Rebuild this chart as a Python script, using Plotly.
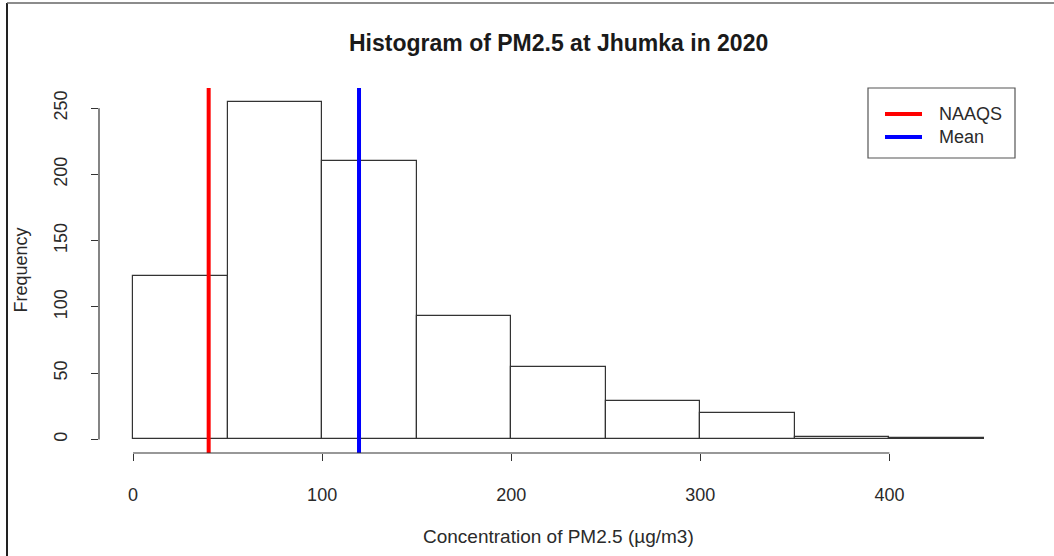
import plotly.graph_objects as go

# Histogram of daily PM2.5 concentration at Jhumka, 2020
bin_edges = [0, 50, 100, 150, 200, 250, 300, 350, 400, 450]
counts = [123, 255, 210, 93, 55, 29, 20, 2, 1]
naaqs_limit = 40
mean_pm25 = 119.5

x_ticks = [0, 100, 200, 300, 400]
y_ticks = [0, 50, 100, 150, 200, 250]

legend_labels = ["NAAQS", "Mean"]
legend_colors = ["#ff0000", "#0000ff"]

FONT = "Liberation Sans, Arial, sans-serif"
W, H = 1054, 556
ML, MR, MT, MB = 99, 36, 88, 103
PW, PH = W - ML - MR, H - MT - MB


def px_x(px):
    return (px - ML) / PW


def px_y(py):
    return (H - MB - py) / PH


mids = [(a + b) / 2 for a, b in zip(bin_edges[:-1], bin_edges[1:])]
widths = [b - a for a, b in zip(bin_edges[:-1], bin_edges[1:])]

# R-style axis ranges: data range padded by 4% on each side
x_lo, x_hi = bin_edges[0], bin_edges[-1]
x_pad = 0.04 * (x_hi - x_lo)
y_hi = max(counts)
y_pad = 0.04 * y_hi

fig = go.Figure()
fig.add_trace(go.Bar(
    x=mids, y=counts, width=widths,
    marker=dict(color="white", line=dict(color="#333333", width=1.2)),
    showlegend=False, hoverinfo="x+y",
))

# reference lines
for xv, col in zip([naaqs_limit, mean_pm25], legend_colors):
    fig.add_shape(type="line", xref="x", yref="paper", x0=xv, x1=xv, y0=0, y1=1,
                  line=dict(color=col, width=4))

# axis lines spanning only the tick range
fig.add_shape(type="line", xref="x", yref="paper", x0=x_ticks[0], x1=x_ticks[-1],
              y0=0, y1=0, line=dict(color="#333333", width=1.2))
fig.add_shape(type="line", xref="paper", yref="y", x0=0, x1=0,
              y0=y_ticks[0], y1=y_ticks[-1], line=dict(color="#333333", width=1.2))

# legend box
fig.add_shape(type="rect", xref="paper", yref="paper",
              x0=px_x(868), x1=px_x(1015), y0=px_y(158), y1=px_y(88),
              line=dict(color="#555555", width=1.2), fillcolor="white")
for label, col, py in zip(legend_labels, legend_colors, [114, 137]):
    fig.add_shape(type="line", xref="paper", yref="paper",
                  x0=px_x(885), x1=px_x(922), y0=px_y(py), y1=px_y(py),
                  line=dict(color=col, width=4))
    fig.add_annotation(text=label, xref="paper", yref="paper", x=px_x(937), y=px_y(py),
                       xanchor="left", yanchor="middle", showarrow=False,
                       font=dict(family=FONT, size=18, color="#2a2a2a"))

# frame around the figure (left and top edges)
fig.add_shape(type="line", xref="paper", yref="paper",
              x0=px_x(7), x1=px_x(7), y0=px_y(3), y1=px_y(H),
              line=dict(color="#222222", width=2))
fig.add_shape(type="line", xref="paper", yref="paper",
              x0=px_x(7), x1=px_x(W), y0=px_y(3), y1=px_y(3),
              line=dict(color="#666666", width=1.5))

# titles
fig.add_annotation(text="<b>Histogram of PM2.5 at Jhumka in 2020</b>",
                   xref="paper", yref="paper", x=0.5, y=px_y(43),
                   xanchor="center", yanchor="middle", showarrow=False,
                   font=dict(family=FONT, size=23, color="#1a1a1a"))
fig.add_annotation(text="Concentration of PM2.5 (µg/m3)",
                   xref="paper", yref="paper", x=0.5, y=px_y(536),
                   xanchor="center", yanchor="middle", showarrow=False,
                   font=dict(family=FONT, size=19, color="#2a2a2a"))
fig.add_annotation(text="Frequency", textangle=-90,
                   xref="paper", yref="paper", x=px_x(20), y=0.5,
                   xanchor="center", yanchor="middle", showarrow=False,
                   font=dict(family=FONT, size=18, color="#2a2a2a"))

fig.update_layout(
    width=W, height=H,
    margin=dict(l=ML, r=MR, t=MT, b=MB, pad=0),
    paper_bgcolor="white", plot_bgcolor="white",
    bargap=0,
    xaxis=dict(range=[x_lo - x_pad, x_hi + x_pad], tickvals=x_ticks,
               ticks="outside", ticklen=7, tickwidth=1.2, tickcolor="#333333",
               showline=False, showgrid=False, zeroline=False,
               ticklabelstandoff=18,
               tickfont=dict(family=FONT, size=18, color="#2a2a2a")),
    yaxis=dict(range=[-y_pad, y_hi + y_pad], tickvals=y_ticks,
               ticks="outside", ticklen=7, tickwidth=1.2, tickcolor="#333333",
               showline=False, showgrid=False, zeroline=False,
               tickangle=-90, ticklabelstandoff=17,
               tickfont=dict(family=FONT, size=18, color="#2a2a2a")),
)

fig.write_html("out.html")
